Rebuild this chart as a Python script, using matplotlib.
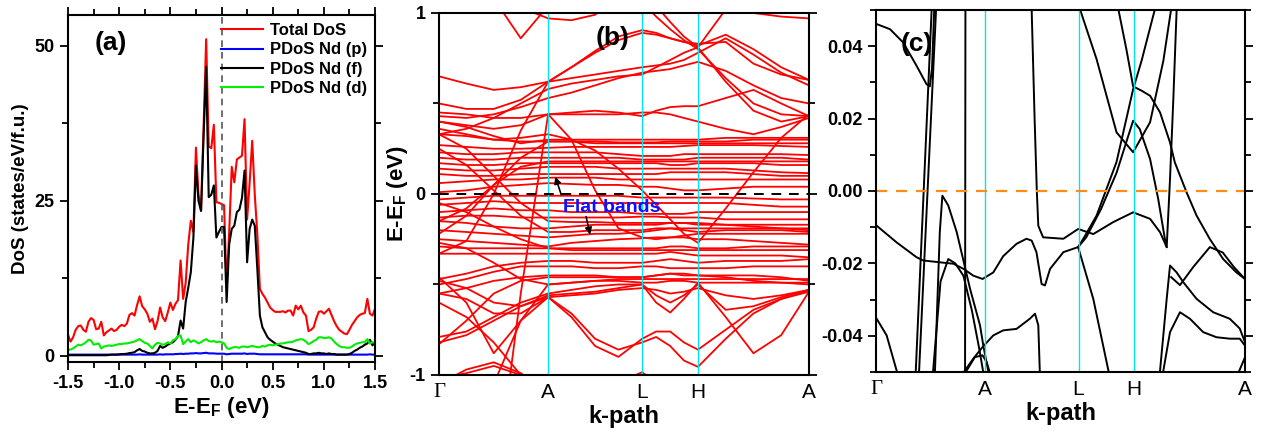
import numpy as np
import matplotlib
matplotlib.use('Agg')
import matplotlib.pyplot as plt
from matplotlib.ticker import MultipleLocator, FormatStrFormatter

plt.rcParams['font.family'] = ['Liberation Sans', 'DejaVu Sans']
plt.rcParams['font.weight'] = 'bold'
plt.rcParams['axes.labelweight'] = 'bold'
plt.rcParams['axes.unicode_minus'] = False
plt.rcParams['mathtext.fontset'] = 'custom'
plt.rcParams['mathtext.rm'] = 'Liberation Sans:bold'
plt.rcParams['mathtext.bf'] = 'Liberation Sans:bold'

# ---------------- (a) density of states ----------------
energy = np.round(np.arange(-1.5, 1.5001, 0.025), 3)

dos_total = [3.4, 2.3, 3.0, 4.2, 4.8, 4.9, 4.2, 3.9, 5.5, 6.1,
             5.8, 4.3, 4.4, 5.5, 3.3, 3.8, 4.1, 4.4, 4.0, 4.2,
             4.7, 5.0, 4.8, 5.2, 6.6, 6.9, 6.5, 8.2, 9.6, 8.0,
             7.5, 6.8, 5.5, 6.0, 4.3, 5.6, 7.8, 6.2, 5.6, 7.0,
             8.6, 7.4, 8.4, 9.0, 15.4, 9.2, 11.8, 18.0, 21.8, 20.0,
             33.6, 26.0, 23.4, 37.0, 51.1, 33.8, 33.5, 37.3, 24.8, 24.7,
             24.5, 24.3, 10.8, 20.0, 30.5, 28.0, 31.7, 32.0, 32.3, 38.2,
             22.0, 28.0, 34.7, 26.0, 19.6, 10.8, 10.0, 9.4, 8.6, 7.8,
             7.4, 7.1, 7.1, 7.1, 7.2, 7.0, 7.3, 7.3, 6.5, 8.1,
             7.5, 8.1, 7.0, 6.5, 4.0, 4.2, 4.6, 6.0, 7.1, 7.2,
             6.8, 7.2, 7.6, 6.6, 5.6, 4.8, 4.2, 3.9, 3.6, 3.5,
             4.2, 5.0, 5.6, 6.2, 6.6, 6.8, 6.9, 9.2, 6.8, 6.5,
             7.6]

dos_f = [0.1, 0.1, 0.1, 0.1, 0.1, 0.1, 0.1, 0.1, 0.1, 0.1,
         0.1, 0.1, 0.1, 0.1, 0.1, 0.1, 0.15, 0.2, 0.2, 0.2,
         0.25, 0.3, 0.3, 0.35, 0.45, 0.5, 0.6, 0.9, 1.1, 0.8,
         0.7, 0.5, 0.4, 0.4, 0.5, 0.8, 1.6, 1.3, 1.5, 1.8,
         2.0, 2.2, 2.6, 3.2, 5.7, 4.4, 8.7, 11.0, 13.5, 19.0,
         30.7, 25.0, 23.4, 35.5, 46.6, 25.6, 26.0, 27.5, 19.1, 20.0,
         20.8, 20.8, 8.7, 18.0, 20.5, 21.0, 23.2, 23.6, 25.5, 29.9,
         15.1, 20.5, 22.0, 21.0, 14.0, 6.5, 4.6, 3.8, 3.0, 2.6,
         2.3, 2.0, 1.8, 1.6, 1.4, 1.3, 1.2, 1.1, 1.0, 0.9,
         0.8, 0.7, 0.6, 0.5, 0.3, 0.3, 0.4, 0.4, 0.5, 0.4,
         0.4, 0.3, 0.4, 0.3, 0.3, 0.2, 0.2, 0.2, 0.2, 0.2,
         0.3, 0.5, 0.8, 1.0, 1.3, 1.5, 1.8, 2.0, 2.6, 1.7,
         2.2]

dos_d = [1.0, 1.0, 1.2, 1.5, 1.8, 1.7, 1.9, 2.2, 2.6, 2.5,
         1.8, 1.9, 2.0, 1.2, 1.5, 1.6, 1.7, 1.6, 1.7, 1.8,
         1.9, 1.9, 2.0, 2.0, 2.1, 2.2, 2.3, 2.5, 2.7, 2.4,
         2.1, 2.0, 1.6, 1.2, 1.8, 2.1, 2.0, 1.8, 1.9, 2.2,
         2.0, 2.5, 2.7, 3.2, 3.3, 1.9, 2.3, 2.7, 2.2, 2.5,
         2.3, 2.0, 2.2, 2.5, 2.7, 2.4, 2.3, 2.4, 2.2, 2.3,
         2.2, 2.0, 1.3, 1.1, 1.3, 1.4, 1.4, 1.3, 1.5, 1.5,
         1.4, 1.5, 1.6, 1.5, 1.4, 1.4, 1.6, 1.5, 1.7, 1.8,
         1.7, 1.8, 1.9, 2.0, 2.0, 2.1, 2.2, 2.2, 2.3, 2.5,
         2.6, 2.7, 2.6, 2.3, 1.9, 2.1, 2.4, 2.6, 3.0, 3.0,
         2.9, 2.9, 3.0, 2.8, 2.3, 1.9, 1.6, 1.4, 1.4, 1.3,
         1.3, 1.5, 1.8, 2.0, 2.1, 2.2, 2.2, 2.7, 2.0, 2.2,
         2.1]

dos_p = [0.2, 0.2, 0.2, 0.2, 0.2, 0.2, 0.2, 0.2, 0.2, 0.2,
         0.2, 0.2, 0.2, 0.2, 0.2, 0.2, 0.2, 0.2, 0.2, 0.2,
         0.2, 0.2, 0.2, 0.2, 0.2, 0.2, 0.2, 0.2, 0.25, 0.2,
         0.2, 0.2, 0.2, 0.2, 0.2, 0.2, 0.25, 0.2, 0.25, 0.25,
         0.25, 0.25, 0.3, 0.3, 0.35, 0.3, 0.35, 0.35, 0.4, 0.4,
         0.45, 0.4, 0.4, 0.45, 0.5, 0.4, 0.4, 0.4, 0.35, 0.35,
         0.35, 0.35, 0.25, 0.3, 0.35, 0.35, 0.35, 0.35, 0.35, 0.4,
         0.3, 0.35, 0.35, 0.35, 0.3, 0.25, 0.25, 0.25, 0.25, 0.25,
         0.25, 0.25, 0.25, 0.25, 0.25, 0.25, 0.25, 0.25, 0.25, 0.25,
         0.25, 0.25, 0.25, 0.25, 0.2, 0.2, 0.2, 0.2, 0.2, 0.2,
         0.2, 0.2, 0.2, 0.2, 0.2, 0.2, 0.2, 0.2, 0.2, 0.2,
         0.2, 0.2, 0.2, 0.2, 0.2, 0.2, 0.2, 0.2, 0.25, 0.2,
         0.2]

# ---------------- (b) band structure, -1..1 eV ----------------
k_nodes = [0.0, 0.295, 0.549, 0.70, 1.0]
k_labels = ['Γ', 'A', 'L', 'H', 'A']

k_b = [0.0, 0.074, 0.148, 0.221, 0.295, 0.358, 0.422, 0.485, 0.549,
       0.587, 0.625, 0.662, 0.70, 0.775, 0.85, 0.925, 1.0]

bands_b_upper = [
    [1.40, 1.30, 1.08, 0.86, 1.04, 1.30, 1.50, 1.50, 1.50, 1.50, 1.50, 1.50, 1.50, 1.50, 1.50, 1.50, 1.50],
    [1.30, 1.20, 1.12, 1.03, 0.97, 0.96, 0.99, 1.10, 1.30, 1.40, 1.40, 1.40, 1.40, 1.40, 1.40, 1.40, 1.40],
    [1.50, 1.50, 1.50, 1.50, 1.50, 1.50, 1.50, 1.50, 1.50, 1.40, 1.30, 1.20, 1.15, 1.10, 1.00, 0.98, 0.97],
    [0.65, 0.61, 0.575, 0.59, 0.62, 0.70, 0.79, 0.87, 0.905, 0.89, 0.86, 0.84, 0.82, 0.88, 0.80, 0.70, 0.63],
    [-0.33, -0.26, 0.00, 0.35, 0.62, 0.70, 0.78, 0.85, 0.89, 0.88, 0.86, 0.84, 0.83, 0.84, 0.72, 0.66, 0.63],
    [0.50, 0.47, 0.47, 0.52, 0.62, 0.64, 0.66, 0.68, 0.70, 0.71, 0.72, 0.74, 0.78, 0.86, 0.77, 0.67, 0.60],
    [0.43, 0.42, 0.44, 0.48, 0.53, 0.56, 0.60, 0.64, 0.67, 0.68, 0.69, 0.71, 0.73, 0.68, 0.60, 0.53, 0.50],
    [1.50, 1.50, 1.50, 1.50, 1.50, 1.50, 1.50, 1.35, 1.15, 1.04, 0.95, 0.87, 0.81, 0.62, 0.46, 0.40, 0.43],
    [1.50, 1.50, 1.50, 1.50, 1.50, 1.50, 1.40, 1.20, 1.06, 0.98, 0.91, 0.85, 0.80, 0.64, 0.50, 0.44, 0.43],
    [0.33, 0.36, 0.42, 0.50, 0.58, 0.61, 0.63, 0.65, 0.66, 0.70, 0.74, 0.78, 0.81, 1.02, 1.20, 1.40, 1.50],
    [0.45, 0.44, 0.42, 0.42, 0.44, 0.45, 0.46, 0.45, 0.43, 0.46, 0.48, 0.485, 0.485, 0.53, 0.575, 0.50, 0.43],
    [0.40, 0.38, 0.36, 0.38, 0.44, 0.44, 0.44, 0.44, 0.45, 0.45, 0.44, 0.42, 0.40, 0.36, 0.33, 0.37, 0.42],
    [0.36, 0.33, 0.30, 0.31, 0.33, 0.30, 0.24, 0.14, 0.02, -0.06, -0.14, -0.22, -0.27, -0.08, 0.12, 0.31, 0.44],
    [-2.00, -2.00, -1.70, -0.55, 0.44, 0.30, 0.02, -0.19, -0.24, -0.25, -0.24, -0.23, -0.22, -0.22, -0.22, -0.22, -0.22],
]

bands_b_flat = [
    [0.40, 0.37, 0.32, 0.28, 0.30, 0.30, 0.30, 0.30, 0.30, 0.30, 0.30, 0.30, 0.30, 0.31, 0.31, 0.31, 0.31],
    [0.33, 0.32, 0.30, 0.29, 0.29, 0.29, 0.29, 0.285, 0.285, 0.285, 0.29, 0.29, 0.29, 0.29, 0.30, 0.30, 0.30],
    [0.27, 0.26, 0.25, 0.25, 0.255, 0.26, 0.26, 0.26, 0.26, 0.26, 0.26, 0.265, 0.27, 0.27, 0.27, 0.265, 0.26],
    [0.23, 0.22, 0.22, 0.23, 0.23, 0.23, 0.23, 0.22, 0.21, 0.21, 0.21, 0.22, 0.22, 0.22, 0.22, 0.22, 0.215],
    [0.20, 0.19, 0.19, 0.20, 0.20, 0.20, 0.20, 0.20, 0.19, 0.19, 0.19, 0.19, 0.20, 0.20, 0.20, 0.20, 0.19],
    [0.17, 0.16, 0.16, 0.17, 0.17, 0.17, 0.17, 0.17, 0.17, 0.17, 0.16, 0.16, 0.17, 0.17, 0.17, 0.16, 0.16],
    [0.14, 0.13, 0.13, 0.14, 0.15, 0.15, 0.15, 0.14, 0.14, 0.14, 0.14, 0.14, 0.14, 0.14, 0.13, 0.12, 0.115],
    [0.11, 0.10, 0.10, 0.11, 0.11, 0.11, 0.11, 0.11, 0.11, 0.11, 0.12, 0.12, 0.12, 0.12, 0.11, 0.10, 0.10],
    [0.06, 0.07, 0.08, 0.08, 0.09, 0.09, 0.09, 0.08, 0.08, 0.08, 0.08, 0.08, 0.08, 0.08, 0.08, 0.08, 0.08],
    [0.01, 0.02, 0.04, 0.05, 0.06, 0.055, 0.05, 0.05, 0.04, 0.04, 0.03, 0.02, 0.02, 0.03, 0.04, 0.04, 0.04],
    [-0.03, -0.02, -0.01, -0.01, -0.01, -0.01, -0.01, -0.01, -0.02, -0.02, -0.02, -0.02, -0.02, -0.02, -0.025, -0.03, -0.03],
    [-0.06, -0.05, -0.04, -0.05, -0.05, -0.05, -0.05, -0.05, -0.05, -0.05, -0.05, -0.05, -0.05, -0.05, -0.06, -0.07, -0.07],
    [-0.10, -0.09, -0.08, -0.09, -0.09, -0.10, -0.10, -0.10, -0.11, -0.11, -0.11, -0.11, -0.10, -0.10, -0.10, -0.10, -0.10],
    [-0.13, -0.12, -0.12, -0.13, -0.13, -0.13, -0.13, -0.13, -0.125, -0.125, -0.13, -0.13, -0.13, -0.14, -0.14, -0.14, -0.14],
    [-0.15, -0.16, -0.18, -0.19, -0.19, -0.18, -0.17, -0.17, -0.17, -0.17, -0.16, -0.16, -0.16, -0.17, -0.18, -0.19, -0.20],
    [-0.20, -0.21, -0.22, -0.23, -0.24, -0.23, -0.22, -0.22, -0.21, -0.20, -0.19, -0.20, -0.21, -0.20, -0.20, -0.20, -0.21],
    [-0.25, -0.26, -0.27, -0.28, -0.29, -0.27, -0.26, -0.25, -0.245, -0.24, -0.24, -0.24, -0.25, -0.25, -0.26, -0.27, -0.28],
    [-0.29, -0.30, -0.30, -0.30, -0.30, -0.30, -0.30, -0.30, -0.30, -0.30, -0.29, -0.29, -0.30, -0.30, -0.29, -0.29, -0.29],
    [-0.33, -0.33, -0.33, -0.33, -0.33, -0.33, -0.33, -0.33, -0.33, -0.33, -0.32, -0.33, -0.34, -0.34, -0.34, -0.34, -0.35],
    [-0.47, -0.44, -0.40, -0.38, -0.37, -0.37, -0.38, -0.38, -0.38, -0.37, -0.36, -0.37, -0.38, -0.37, -0.37, -0.37, -0.36],
    [-0.50, -0.47, -0.43, -0.40, -0.40, -0.40, -0.41, -0.41, -0.40, -0.40, -0.41, -0.41, -0.41, -0.41, -0.40, -0.40, -0.40],
    [-0.55, -0.52, -0.48, -0.46, -0.45, -0.45, -0.45, -0.46, -0.46, -0.45, -0.44, -0.45, -0.45, -0.45, -0.45, -0.46, -0.48],
    [0.33, 0.25, 0.10, -0.05, -0.15, -0.155, -0.155, -0.16, -0.16, -0.16, -0.16, -0.16, -0.17, -0.17, -0.17, -0.17, -0.17],
    [0.25, 0.16, 0.02, -0.12, -0.21, -0.21, -0.20, -0.20, -0.20, -0.19, -0.19, -0.19, -0.19, -0.19, -0.19, -0.19, -0.19],
    [-0.05, -0.10, -0.18, -0.25, -0.30, -0.31, -0.31, -0.31, -0.31, -0.31, -0.31, -0.31, -0.31, -0.31, -0.31, -0.31, -0.31],
    [-0.15, -0.08, 0.05, 0.15, 0.18, 0.18, 0.18, 0.18, 0.18, 0.18, 0.18, 0.18, 0.18, 0.18, 0.18, 0.18, 0.18],
    [-0.22, -0.12, 0.05, 0.20, 0.29, 0.29, 0.28, 0.28, 0.28, 0.28, 0.28, 0.28, 0.28, 0.28, 0.28, 0.28, 0.28],
    [-0.27, -0.30, -0.38, -0.47, -0.50, -0.49, -0.48, -0.48, -0.49, -0.49, -0.48, -0.48, -0.49, -0.49, -0.49, -0.49, -0.49],
]

bands_b_lower = [
    [-0.48, -0.52, -0.60, -0.62, -0.57, -0.68, -0.84, -0.90, -0.80, -0.76, -0.76, -0.82, -0.86, -0.75, -0.64, -0.58, -0.53],
    [-0.55, -0.58, -0.66, -0.66, -0.57, -0.66, -0.80, -0.86, -0.82, -0.79, -0.84, -0.92, -0.955, -0.80, -0.66, -0.58, -0.54],
    [-0.82, -0.78, -0.70, -0.62, -0.56, -0.55, -0.54, -0.52, -0.50, -0.60, -0.655, -0.58, -0.49, -0.68, -0.88, -0.78, -0.54],
    [-0.79, -0.76, -0.68, -0.60, -0.55, -0.53, -0.51, -0.50, -0.50, -0.56, -0.60, -0.56, -0.50, -0.64, -0.62, -0.57, -0.53],
    [-0.46, -0.60, -0.88, -0.70, -0.57, -0.56, -0.55, -0.53, -0.52, -0.53, -0.55, -0.54, -0.52, -0.56, -0.58, -0.56, -0.53],
    [-0.83, -0.70, -0.55, -0.48, -0.46, -0.46, -0.46, -0.46, -0.46, -0.45, -0.44, -0.44, -0.45, -0.46, -0.48, -0.49, -0.50],
    [-1.05, -0.97, -0.93, -0.99, -1.10, -1.20, -1.20, -1.10, -1.05, -1.10, -1.20, -1.20, -1.20, -1.20, -1.20, -1.20, -1.20],
    [-1.02, -0.99, -0.95, -1.00, -1.10, -1.20, -1.20, -1.20, -1.20, -1.20, -1.20, -1.20, -1.20, -1.20, -1.20, -1.20, -1.20],
    [-1.20, -1.20, -1.20, -1.20, -1.20, -1.15, -1.10, -1.04, -0.985, -1.04, -1.10, -1.20, -1.20, -1.20, -1.20, -1.20, -1.20],
    [-0.60, -0.68, -0.82, -1.00, -1.20, -1.20, -1.20, -1.20, -1.20, -1.20, -1.20, -1.20, -1.20, -1.20, -1.20, -1.20, -1.20],
    [-1.60, -1.40, -1.05, -0.70, -0.50, -0.49, -0.48, -0.47, -0.47, -0.47, -0.47, -0.47, -0.47, -0.47, -0.47, -0.47, -0.47],
]

# ---------------- (c) zoom near the Fermi level ----------------
bands_c = [
    ([0.002, 0.038, 0.074, 0.110, 0.137, 0.146, 0.152, 0.158],
     [0.0461, 0.0447, 0.041, 0.0346, 0.0295, 0.0289, 0.034, 0.0502]),
    ([0.108, 0.151], [-0.0496, 0.0502]),
    ([0.117, 0.163], [-0.0496, 0.0502]),
    ([0.2425, 0.2415], [0.0502, -0.0496]),
    ([0.002, 0.056, 0.110, 0.128, 0.173, 0.210, 0.237, 0.264, 0.289, 0.318, 0.345,
      0.381, 0.408, 0.422, 0.435, 0.449, 0.458, 0.472, 0.508, 0.548, 0.570, 0.610,
      0.652, 0.697, 0.715, 0.743, 0.765, 0.783, 0.788, 0.797, 0.806, 0.815],
     [-0.0096, -0.0142, -0.0183, -0.0192, -0.0197, -0.0201, -0.0215, -0.0234, -0.0243,
      -0.0225, -0.018, -0.0146, -0.0132, -0.0137, -0.0169, -0.0257, -0.0261, -0.0215,
      -0.0169, -0.0155, -0.0128, -0.005, 0.005, 0.0194, 0.0171, 0.0088, -0.0022, -0.0132,
      -0.0155, 0.0033, 0.0254, 0.0502]),
    ([0.422, 0.430, 0.436, 0.440, 0.453, 0.508, 0.548, 0.589, 0.643, 0.697, 0.743,
      0.770, 0.788],
     [0.0502, 0.020, 0.000, -0.0096, -0.0128, -0.0132, -0.0105, -0.0119, -0.0086,
      -0.0059, -0.0077, -0.0114, -0.0155]),
    ([0.553, 0.598, 0.652, 0.697, 0.743, 0.779, 0.800],
     [0.0502, 0.0364, 0.0162, 0.0107, 0.019, 0.036, 0.0502]),
    ([0.657, 0.679, 0.697, 0.720, 0.743, 0.770, 0.797, 0.810, 0.842, 0.869, 0.905,
      0.941, 0.977, 1.0],
     [0.0502, 0.039, 0.0289, 0.0277, 0.0263, 0.0217, 0.0134, 0.0079, -0.0004,
      -0.0068, -0.0133, -0.0188, -0.0225, -0.0243]),
    ([0.548, 0.562, 0.598, 0.652, 0.697, 0.720, 0.756],
     [-0.0155, -0.0132, -0.0068, 0.008, 0.0281, 0.036, 0.0502]),
    ([0.548, 0.589, 0.630], [-0.0155, -0.0298, -0.0496]),
    ([0.002, 0.029, 0.056], [-0.0353, -0.0399, -0.0496]),
    ([0.160, 0.173, 0.180, 0.196, 0.219, 0.255, 0.282, 0.291, 0.304],
     [-0.0496, -0.0114, -0.0013, -0.004, -0.0114, -0.027, -0.0371, -0.0427, -0.0496]),
    ([0.155, 0.175, 0.196, 0.215, 0.237, 0.260, 0.280, 0.290],
     [-0.0496, -0.025, -0.0188, -0.020, -0.0234, -0.033, -0.0436, -0.0496]),
    ([0.241, 0.264, 0.289, 0.318, 0.345, 0.381, 0.417, 0.431, 0.440, 0.444],
     [-0.0496, -0.0463, -0.0431, -0.0399, -0.0385, -0.0381, -0.0353, -0.0339, -0.0371, -0.0496]),
    ([0.246, 0.268, 0.289, 0.300, 0.307],
     [-0.0496, -0.0459, -0.0454, -0.0473, -0.0496]),
    ([0.770, 0.788, 0.797, 0.815, 0.833, 0.869, 0.914, 0.959, 0.986, 1.0],
     [-0.0496, -0.0298, -0.0206, -0.0225, -0.0252, -0.0298, -0.0335, -0.0353, -0.038, -0.0417]),
    ([0.800, 0.824, 0.860, 0.905, 0.940, 0.970, 1.0],
     [-0.0238, -0.026, -0.021, -0.0155, -0.017, -0.021, -0.0243]),
    ([0.779, 0.797, 0.824, 0.851, 0.887, 0.923, 0.959, 0.986, 1.0],
     [-0.0496, -0.039, -0.0335, -0.0353, -0.039, -0.0404, -0.0408, -0.0408, -0.0427]),
    ([0.985, 1.0], [-0.0496, -0.046]),
]

fig = plt.figure(figsize=(12.64, 4.41), dpi=100)
ax_a = fig.add_axes([0.0538, 0.179, 0.2429, 0.787])
ax_b = fig.add_axes([0.3473, 0.1497, 0.2927, 0.8209])
ax_c = fig.add_axes([0.6930, 0.1565, 0.2919, 0.8209])

# panel (a)
ax_a.plot(energy, dos_total, color='#ff0000', lw=1.5, label='Total DoS')
ax_a.plot(energy, dos_p, color='#0000ff', lw=1.5, label='PDoS Nd (p)')
ax_a.plot(energy, dos_f, color='black', lw=1.5, label='PDoS Nd (f)')
ax_a.plot(energy, dos_d, color='#00ee00', lw=1.5, label='PDoS Nd (d)')
ax_a.axvline(0, color='#555555', lw=1.2, ls=(0, (4, 3)))
ax_a.set_xlim(-1.5, 1.5)
ax_a.set_ylim(-1, 55)
ax_a.xaxis.set_major_locator(MultipleLocator(0.5))
ax_a.xaxis.set_minor_locator(MultipleLocator(0.25))
ax_a.yaxis.set_major_locator(MultipleLocator(25))
ax_a.yaxis.set_minor_locator(MultipleLocator(12.5))
ax_a.xaxis.set_major_formatter(FormatStrFormatter('%.1f'))
ax_a.set_xlabel(r'E-E$_{\mathbf{F}}$ (eV)', fontsize=16, labelpad=2)
ax_a.set_ylabel('DoS (states/eV/f.u.)', fontsize=13.5, labelpad=4)
leg = ax_a.legend(loc='upper right', frameon=False, fontsize=12, handlelength=2.5,
                  borderaxespad=0.1, labelspacing=0.25, handletextpad=0.4)
ax_a.text(0.14, 0.92, '(a)', transform=ax_a.transAxes, fontsize=19,
          ha='center', va='center')

# panel (b)
for band in bands_b_upper + bands_b_flat + bands_b_lower:
    ax_b.plot(k_b, band, color='#ff0000', lw=1.3)
for kn in k_nodes[1:4]:
    ax_b.axvline(kn, color='#00e5ee', lw=1.0)
ax_b.axhline(0, color='black', lw=1.4, ls=(0, (5, 4)))
ax_b.set_xlim(0, 1)
ax_b.set_ylim(-1, 1)
ax_b.yaxis.set_major_locator(MultipleLocator(1))
ax_b.yaxis.set_minor_locator(MultipleLocator(0.5))
ax_b.set_xticks(k_nodes)
ax_b.set_xticklabels(k_labels, fontweight='normal', fontsize=15)
ax_b.set_ylabel(r'E-E$_{\mathbf{F}}$ (eV)', fontsize=16, labelpad=0)
ax_b.set_xlabel('k-path', fontsize=17, labelpad=2)
ax_b.text(0.47, 0.93, '(b)', transform=ax_b.transAxes, fontsize=19,
          ha='center', va='center')
ax_b.text(0.468, -0.077, 'Flat bands', color='#1010ff', fontsize=14,
          ha='center', va='center')
ax_b.annotate('', xy=(0.312, 0.11), xytext=(0.333, -0.02),
              arrowprops=dict(arrowstyle='-|>', color='black', lw=1.2,
                              mutation_scale=10))
ax_b.annotate('', xy=(0.41, -0.24), xytext=(0.396, -0.11),
              arrowprops=dict(arrowstyle='-|>', color='black', lw=1.2,
                              mutation_scale=10))

# panel (c)
for kc, ec in bands_c:
    ax_c.plot(kc, ec, color='black', lw=1.4)
for kn in k_nodes[1:4]:
    ax_c.axvline(kn, color='#00e5ee', lw=1.0)
ax_c.axhline(0, color='#ff8c1a', lw=1.6, ls=(0, (5, 4)))
ax_c.set_xlim(0, 1)
ax_c.set_ylim(-0.05, 0.05)
ax_c.yaxis.set_major_locator(MultipleLocator(0.02))
ax_c.yaxis.set_minor_locator(MultipleLocator(0.01))
ax_c.yaxis.set_major_formatter(FormatStrFormatter('%.2f'))
ax_c.set_xticks(k_nodes)
ax_c.set_xticklabels(k_labels, fontweight='normal', fontsize=15)
ax_c.set_xlabel('k-path', fontsize=17, labelpad=2)
ax_c.text(0.11, 0.905, '(c)', transform=ax_c.transAxes, fontsize=19,
          ha='center', va='center')

for ax in (ax_a, ax_b, ax_c):
    for sp in ax.spines.values():
        sp.set_linewidth(1.5)
    ax.tick_params(which='both', direction='out', right=True, width=1.3,
                   labelsize=13)
    ax.tick_params(which='major', length=6)
    ax.tick_params(which='minor', length=4)
ax_a.tick_params(which='both', top=True)
for ax in (ax_b, ax_c):
    ax.tick_params(axis='x', which='both', length=0, pad=6, labelsize=15)
    ax.tick_params(axis='x', which='minor', bottom=False)
    for lbl in ax.get_xticklabels():
        if lbl.get_text() == 'Γ':
            lbl.set_fontfamily('Liberation Serif')

fig.savefig('out.png', dpi=100)
